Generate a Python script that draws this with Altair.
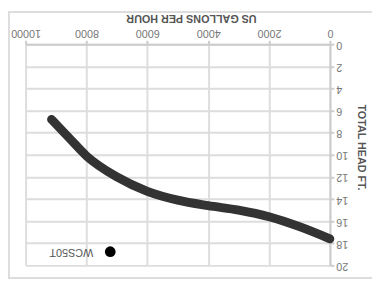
import altair as alt
import pandas as pd

# pump curve
gph = [0, 1000, 2000, 3000, 4000, 5000, 6000, 7000, 8000, 8560, 9150]
head = [17.6, 16.5, 15.6, 15.0, 14.6, 14.1, 13.3, 12.0, 10.1, 8.5, 6.8]
series_name = ["WCS50T"]
x_ticks = [0, 2000, 4000, 6000, 8000, 10000]
y_ticks = [0, 2, 4, 6, 8, 10, 12, 14, 16, 18, 20]

df = pd.DataFrame({"gph": gph, "head": head, "name": series_name * len(gph)})
legend_df = pd.DataFrame({"name": series_name})

W, H = 311, 226
PL, PT = 18, 34

x_scale = alt.Scale(domain=[0, 10000], reverse=True, nice=False)
y_scale = alt.Scale(domain=[0, 20], reverse=True, nice=False)

line = alt.Chart(df).mark_line(
    color="#333333", strokeWidth=9, strokeCap="round", interpolate="monotone"
).encode(
    x=alt.X("gph:Q", scale=x_scale,
            axis=alt.Axis(orient="top", values=x_ticks, title="US GALLONS PER HOUR",
                          labelAngle=180, titleAngle=180, titleBaseline="top",
                          titleX=169, titlePadding=4, format="d", labelFlush=False)),
    y=alt.Y("head:Q", scale=y_scale,
            axis=alt.Axis(orient="right", values=y_ticks, title="TOTAL HEAD FT.",
                          labelAngle=180, titleAngle=90, titleY=105, titlePadding=8,
                          labelFlush=False)),
    order=alt.Order("gph:Q"),
)

border = alt.Chart(legend_df).mark_rect(
    fill=None, stroke="#dddddd", strokeWidth=2, clip=False
).encode(
    x=alt.value(-PL + 1), x2=alt.value(W + 80),
    y=alt.value(-PT + 1), y2=alt.value(H + 13),
)

leg_pt = alt.Chart(legend_df).mark_point(
    filled=True, color="#000000", size=120, opacity=1, shape="circle"
).encode(x=alt.value(112.5 - 26), y=alt.value(254 - 42))

leg_txt = alt.Chart(legend_df).mark_text(
    angle=180, align="left", baseline="middle", fontSize=11,
    font="Liberation Sans", color="#555555"
).encode(x=alt.value(95 - 26), y=alt.value(254 - 42), text="name:N")

chart = alt.layer(border, line, leg_pt, leg_txt).properties(
    width=W, height=H,
    autosize=alt.AutoSizeParams(type="none"),
    padding={"left": PL, "top": PT, "right": 372 - PL - W, "bottom": 15},
).configure_view(stroke=None).configure_axis(
    gridColor="#dddddd", gridWidth=2,
    domainColor="#cccccc", domainWidth=2,
    tickColor="#cccccc", tickWidth=2, tickSize=4,
    labelFont="Liberation Sans", labelFontSize=11, labelColor="#777777",
    labelPadding=2,
    titleFont="Liberation Sans", titleFontSize=11, titleFontWeight="bold",
    titleColor="#555555",
)

chart.save("out.html", embed_options={"renderer": "svg", "actions": False})
